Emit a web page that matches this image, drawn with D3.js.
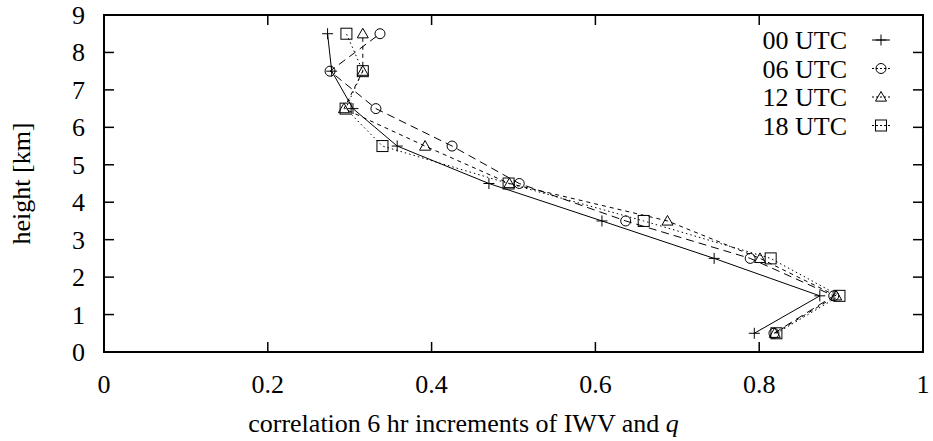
<!DOCTYPE html>
<html>
<head>
<meta charset="utf-8">
<script src="https://cdn.jsdelivr.net/npm/d3@7"></script>
<style>
  body { margin: 0; background: #fff; }
  text { font-family: "Liberation Serif", "DejaVu Serif", serif; fill: #000; }
</style>
</head>
<body>
<svg id="chart" width="933" height="441"></svg>
<script>
// heights [km] and correlation values per launch time
const heights = [0.5, 1.5, 2.5, 3.5, 4.5, 5.5, 6.5, 7.5, 8.5];
const utc00 = [0.794, 0.874, 0.745, 0.608, 0.470, 0.358, 0.304, 0.278, 0.273];
const utc06 = [0.818, 0.891, 0.789, 0.637, 0.507, 0.425, 0.332, 0.276, 0.337];
const utc12 = [0.819, 0.894, 0.801, 0.688, 0.495, 0.392, 0.293, 0.316, 0.316];
const utc18 = [0.821, 0.898, 0.814, 0.659, 0.494, 0.340, 0.295, 0.316, 0.296];
const seriesNames = ["00 UTC", "06 UTC", "12 UTC", "18 UTC"];
const xTicks = [0, 0.2, 0.4, 0.6, 0.8, 1];
const yTicks = [0, 1, 2, 3, 4, 5, 6, 7, 8, 9];

const svg = d3.select("#chart");
const margin = { left: 104, right: 10, top: 15, bottom: 89 };
const W = 933, H = 441;
const fs = 26;

const x = d3.scaleLinear().domain([0, 1]).range([margin.left, W - margin.right]);
const y = d3.scaleLinear().domain([0, 9]).range([H - margin.bottom, margin.top]);

const series = [
  { name: seriesNames[0], values: utc00, dash: null, sym: "plus" },
  { name: seriesNames[1], values: utc06, dash: "8,5", sym: "circle" },
  { name: seriesNames[2], values: utc12, dash: "4,4", sym: "triangle" },
  { name: seriesNames[3], values: utc18, dash: "1.5,3", sym: "square" },
];

const tickLen = 10;

// ticks (mirrored on all sides, pointing inwards)
const ticks = svg.append("g").attr("stroke", "#000").attr("stroke-width", 1.5);
xTicks.forEach((t) => {
  ticks.append("line").attr("x1", x(t)).attr("x2", x(t))
    .attr("y1", y(0)).attr("y2", y(0) - tickLen);
  ticks.append("line").attr("x1", x(t)).attr("x2", x(t))
    .attr("y1", y(9)).attr("y2", y(9) + tickLen);
});
yTicks.forEach((t) => {
  ticks.append("line").attr("x1", x(0)).attr("x2", x(0) + tickLen)
    .attr("y1", y(t)).attr("y2", y(t));
  ticks.append("line").attr("x1", x(1)).attr("x2", x(1) - tickLen)
    .attr("y1", y(t)).attr("y2", y(t));
});

// tick labels
svg.append("g").selectAll("text").data(xTicks).join("text")
  .attr("x", (d) => x(d)).attr("y", y(0) + 41)
  .attr("text-anchor", "middle").attr("font-size", fs)
  .text((d) => d3.format("~g")(d));
svg.append("g").selectAll("text").data(yTicks).join("text")
  .attr("x", x(0) - 19).attr("y", (d) => y(d) + 9)
  .attr("text-anchor", "end").attr("font-size", fs)
  .text((d) => d);

// axis titles
svg.append("text")
  .attr("x", (x(0) + x(1)) / 2 - 50).attr("y", 432)
  .attr("text-anchor", "middle").attr("font-size", fs)
  .html('correlation 6 hr increments of IWV and <tspan font-style="italic">q</tspan>');
svg.append("text")
  .attr("transform", `translate(30,${(y(0) + y(9)) / 2}) rotate(-90)`)
  .attr("text-anchor", "middle").attr("font-size", fs)
  .text("height [km]");

function drawSymbol(g, sym, cx, cy) {
  const s = 5.5;
  if (sym === "plus") {
    g.append("path").attr("d", `M${cx - s},${cy}H${cx + s}M${cx},${cy - s}V${cy + s}`);
  } else if (sym === "circle") {
    g.append("circle").attr("cx", cx).attr("cy", cy).attr("r", s - 0.5);
  } else if (sym === "triangle") {
    g.append("path").attr("d", `M${cx},${cy - s}L${cx + s},${cy + s * 0.75}L${cx - s},${cy + s * 0.75}Z`);
  } else {
    g.append("rect").attr("x", cx - s).attr("y", cy - s).attr("width", 2 * s).attr("height", 2 * s);
  }
}

const line = d3.line().x((d) => x(d[0])).y((d) => y(d[1]));

series.forEach((s) => {
  const pts = s.values.map((v, i) => [v, heights[i]]);
  svg.append("path")
    .attr("d", line(pts))
    .attr("fill", "none").attr("stroke", "#000").attr("stroke-width", 1)
    .attr("stroke-dasharray", s.dash);
  const g = svg.append("g").attr("fill", "none").attr("stroke", "#000").attr("stroke-width", 1);
  pts.forEach((p) => drawSymbol(g, s.sym, x(p[0]), y(p[1])));
});

// legend
series.forEach((s, i) => {
  const cy = 40 + i * 28.5;
  svg.append("text")
    .attr("x", 847).attr("y", cy + 9)
    .attr("text-anchor", "end").attr("font-size", fs)
    .text(s.name);
  svg.append("line")
    .attr("x1", 872).attr("x2", 890).attr("y1", cy).attr("y2", cy)
    .attr("stroke", "#000").attr("stroke-width", 1)
    .attr("stroke-dasharray", s.sym === "plus" ? null : "2,2");
  const g = svg.append("g").attr("fill", "none").attr("stroke", "#000").attr("stroke-width", 1);
  drawSymbol(g, s.sym, 881, cy);
});

// frame
svg.append("rect")
  .attr("x", x(0)).attr("y", y(9))
  .attr("width", x(1) - x(0)).attr("height", y(0) - y(9))
  .attr("fill", "none").attr("stroke", "#000").attr("stroke-width", 2);
</script>
</body>
</html>
